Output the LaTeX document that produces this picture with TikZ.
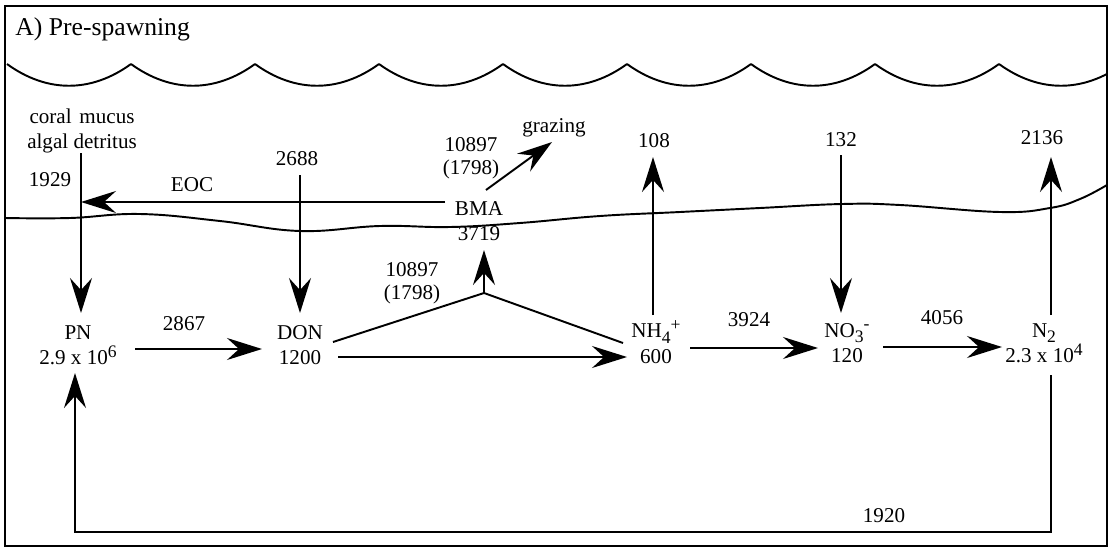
\documentclass[tikz,border=0pt]{standalone}
\usepackage{fontspec}
\setmainfont{Liberation Serif}
\usetikzlibrary{arrows.meta, calc}
\newcommand{\supTxt}[1]{\raisebox{0.75ex}{\fontsize{10}{10}\selectfont #1}}
\newcommand{\subTxt}[1]{\raisebox{-0.55ex}{\fontsize{10}{10}\selectfont #1}}

\begin{document}
\begin{tikzpicture}[
    x=0.02cm, y=-0.02cm,
    >={Stealth[length=0.7cm, width=0.44cm, inset=0.24cm]},
    every node/.style={font=\fontsize{12}{14.5}\selectfont, align=center, inner sep=0pt, text=black},
    pair/.style={font=\fontsize{12}{13}\selectfont},
    flow/.style={->, draw=black, line width=1.1pt},
    plainLine/.style={draw=black, line width=1.1pt},
    frameLine/.style={draw=black, line width=1.5pt}
  ]
    \useasboundingbox (0,0) rectangle (1112,548);
    \draw[frameLine] (5,6) rectangle (1107,546);
    \node (title) [anchor=base west, font=\fontsize{14.6}{17}\selectfont] at (15,35) {A) Pre-spawning};

    % water surface and sediment surface
    \begin{scope}
      \clip (5,6) rectangle (1107,546);
      \foreach \xa in {7,131,...,999}
        \draw[plainLine] (\xa,64) .. controls (\xa+40,93) and (\xa+84,93) .. (\xa+124,64);
      \draw[plainLine] plot[smooth, tension=0.7] coordinates {(5,218) (70,218) (140,214) (220,221) (300,231) (380,226) (450,227) (520,223) (600,216) (680,212) (760,208) (842,204) (900,205) (1000,212) (1050,208) (1080,199) (1107,185)};
    \end{scope}

    % pools
    \node (pn) at (78,345) {PN\\2.9 x 10\supTxt{6}};
    \node (don) at (300,345) {DON\\1200};
    \node (nh4) at (656,342) {NH\subTxt{4}\supTxt{+}\\600};
    \node (no3) at (847,343) {NO\subTxt{3}\supTxt{-}\\120};
    \node (ntwo) at (1044,343) {N\subTxt{2}\\2.3 x 10\supTxt{4}};
    \node (bma) at (479,221) {BMA\\3719};
    \node (src) at (82,131) {coral\hspace{0.12em} mucus\\algal detritus};
    \node (grazing) at (554,128) {grazing};

    % flux labels
    \node (n1929) at (50,180) {1929};
    \node (eoc) at (192,185) {EOC};
    \node (n2688) at (297,159) {2688};
    \node (bmaUp) [pair] at (471,158) {10897\\(1798)};
    \node (n108) at (654,141) {108};
    \node (n132) at (841,140) {132};
    \node (n2136) at (1042,138) {2136};
    \node (f2867) at (184,324) {2867};
    \node (fUp) [pair] at (412,283) {10897\\(1798)};
    \node (f3924) at (749,320) {3924};
    \node (f4056) at (942,318) {4056};
    \node (f1920) at (884,516) {1920};

    \coordinate (split) at (484,293);

    \draw[flow] ($(src)+(-1,22)$) -- ($(pn)+(3,-32)$);
    \draw[flow] ($(n2688)+(3,16)$) -- ($(don)+(0,-32)$);
    \draw[flow] ($(pn)+(57,4)$) -- ($(don)+(-38,4)$);
    \draw[flow] ($(don)+(38,12)$) -- ($(nh4)+(-29,15)$);
    \draw[plainLine] ($(don)+(33,-3)$) -- (split) -- ($(nh4)+(-33,1)$);
    \draw[flow] (split) -- ($(bma)+(5,29)$);
    \draw[flow] ($(bma)+(-34,-19)$) -- ($(src)+(-1,71)$);
    \draw[flow] ($(bma)+(7,-31)$) -- ($(grazing)+(-2,14)$);
    \draw[flow] ($(nh4)+(-3,-27)$) -- ($(n108)+(-1,16)$);
    \draw[flow] ($(n132)+(0,15)$) -- ($(no3)+(-6,-30)$);
    \draw[flow] ($(ntwo)+(7,-28)$) -- ($(n2136)+(9,19)$);
    \draw[flow] ($(nh4)+(34,6)$) -- ($(no3)+(-29,5)$);
    \draw[flow] ($(no3)+(36,4)$) -- ($(ntwo)+(-42,4)$);
    \draw[flow] ($(ntwo)+(7,32)$) -- ++(0,157) -| ($(pn)+(-3,28)$);
  \end{tikzpicture}
\end{document}
